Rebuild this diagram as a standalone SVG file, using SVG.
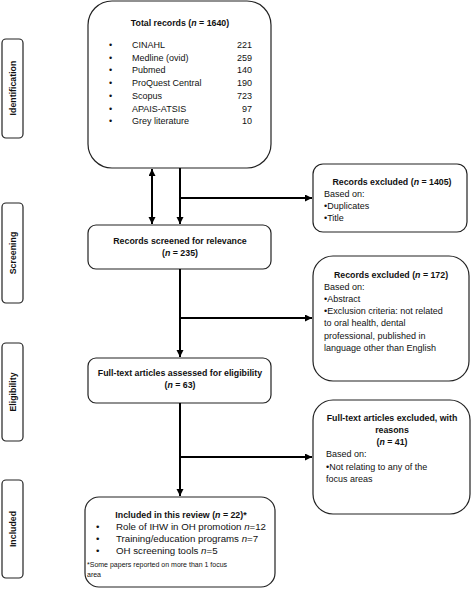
<svg xmlns="http://www.w3.org/2000/svg" width="472" height="589" viewBox="0 0 472 589">
<defs>
<marker id="ah" markerUnits="userSpaceOnUse" markerWidth="8" markerHeight="8" refX="7" refY="3.5" orient="auto-start-reverse">
<path d="M0,0 L7,3.5 L0,7 z" fill="#000"/>
</marker>
<style>
.box{fill:#fff;stroke:#222;stroke-width:1.2}
.t{font-family:"Liberation Sans",Arial,sans-serif;font-size:9px;fill:#111}
.b{font-weight:bold;font-size:8.8px}
.c{text-anchor:middle}
.r{text-anchor:end}
.i{font-style:italic}
.sm{font-size:7px}
.li{font-size:9.7px}
.con{stroke:#000;stroke-width:2;fill:none}
</style>
</defs>
<rect width="472" height="589" fill="#fff"/>

<g id="stage-identification">
<rect class="box" x="2" y="39" width="21" height="99" rx="4"/>
<text class="t b c" transform="translate(15.5,88) rotate(-90)">Identification</text>
</g>
<g id="stage-screening">
<rect class="box" x="2" y="203" width="21" height="100" rx="4"/>
<text class="t b c" transform="translate(15.5,253) rotate(-90)">Screening</text>
</g>
<g id="stage-eligibility">
<rect class="box" x="2" y="343" width="21" height="98" rx="4"/>
<text class="t b c" transform="translate(15.5,392) rotate(-90)">Eligibility</text>
</g>
<g id="stage-included">
<rect class="box" x="2" y="480" width="21" height="98" rx="4"/>
<text class="t b c" transform="translate(15.5,529) rotate(-90)">Included</text>
</g>

<g id="total-records">
<rect class="box" x="88" y="1" width="183" height="167" rx="24"/>
<text class="t b c" x="180" y="26">Total records (<tspan class="i">n</tspan> = 1640)</text>
<g class="t">
<text x="109" y="48">•</text><text x="132" y="48">CINAHL</text><text class="r" x="252" y="48">221</text>
<text x="109" y="60.7">•</text><text x="132" y="60.7">Medline (ovid)</text><text class="r" x="252" y="60.7">259</text>
<text x="109" y="73.4">•</text><text x="132" y="73.4">Pubmed</text><text class="r" x="252" y="73.4">140</text>
<text x="109" y="86.1">•</text><text x="132" y="86.1">ProQuest Central</text><text class="r" x="252" y="86.1">190</text>
<text x="109" y="98.8">•</text><text x="132" y="98.8">Scopus</text><text class="r" x="252" y="98.8">723</text>
<text x="109" y="111.5">•</text><text x="132" y="111.5">APAIS-ATSIS</text><text class="r" x="252" y="111.5">97</text>
<text x="109" y="124.2">•</text><text x="132" y="124.2">Grey literature</text><text class="r" x="252" y="124.2">10</text>
</g>
</g>

<g id="excluded-1405">
<rect class="box" x="313" y="164" width="154" height="68" rx="10"/>
<text class="t b c" x="392" y="185">Records excluded (<tspan class="i">n</tspan> = 1405)</text>
<text class="t" x="324" y="197">Based on:</text>
<text class="t" x="324" y="209">•Duplicates</text>
<text class="t" x="324" y="221">•Title</text>
</g>

<g id="screened">
<rect class="box" x="88" y="225" width="183" height="44" rx="8"/>
<text class="t b c" x="180" y="244">Records screened for relevance</text>
<text class="t b c" x="180" y="256">(<tspan class="i">n</tspan> =  235)</text>
</g>

<g id="excluded-172">
<rect class="box" x="313" y="256" width="156" height="125" rx="20"/>
<text class="t b c" x="391" y="278">Records excluded (<tspan class="i">n</tspan> = 172)</text>
<text class="t" x="324" y="290">Based on:</text>
<text class="t" x="324" y="302">•Abstract</text>
<text class="t" x="324" y="314">•Exclusion criteria: not related</text>
<text class="t" x="324" y="326">to oral health, dental</text>
<text class="t" x="324" y="338.5">professional, published in</text>
<text class="t" x="324" y="350.5">language other than English</text>
</g>

<g id="full-text">
<rect class="box" x="88" y="358" width="183" height="45" rx="8"/>
<text class="t b c" x="180" y="376">Full-text articles assessed for eligibility</text>
<text class="t b c" x="180" y="388">(<tspan class="i">n</tspan> =  63)</text>
</g>

<g id="excluded-41">
<rect class="box" x="313" y="400" width="157" height="114" rx="20"/>
<text class="t b c" x="392" y="421">Full-text articles excluded, with</text>
<text class="t b c" x="392" y="433">reasons</text>
<text class="t b c" x="392" y="445">(<tspan class="i">n</tspan> =  41)</text>
<text class="t" x="326" y="457">Based on:</text>
<text class="t" x="326" y="470">•Not relating to any of the</text>
<text class="t" x="326" y="482">focus areas</text>
</g>

<g id="included">
<rect class="box" x="85" y="497" width="190" height="90" rx="14"/>
<text class="t b c" x="181" y="517.5">Included in this review (<tspan class="i">n</tspan> = 22)*</text>
<g class="t li">
<text x="96" y="530">•</text><text x="116" y="530">Role of IHW in OH promotion <tspan class="i">n</tspan>=12</text>
<text x="96" y="542">•</text><text x="116" y="542">Training/education programs <tspan class="i">n</tspan>=7</text>
<text x="96" y="554">•</text><text x="116" y="554">OH screening tools <tspan class="i">n</tspan>=5</text>
</g>
<text class="t sm" x="87" y="567">*Some papers reported on more than 1 focus</text>
<text class="t sm" x="87" y="577">area</text>
</g>

<g id="connectors">
<path class="con" d="M152,169 V224" marker-start="url(#ah)" marker-end="url(#ah)"/>
<path class="con" d="M180,168 V224" marker-end="url(#ah)"/>
<path class="con" d="M180,198 H312" marker-end="url(#ah)"/>
<path class="con" d="M180,269 V357" marker-end="url(#ah)"/>
<path class="con" d="M180,318 H312" marker-end="url(#ah)"/>
<path class="con" d="M180,403 V496" marker-end="url(#ah)"/>
<path class="con" d="M180,457 H312" marker-end="url(#ah)"/>
</g>
</svg>
